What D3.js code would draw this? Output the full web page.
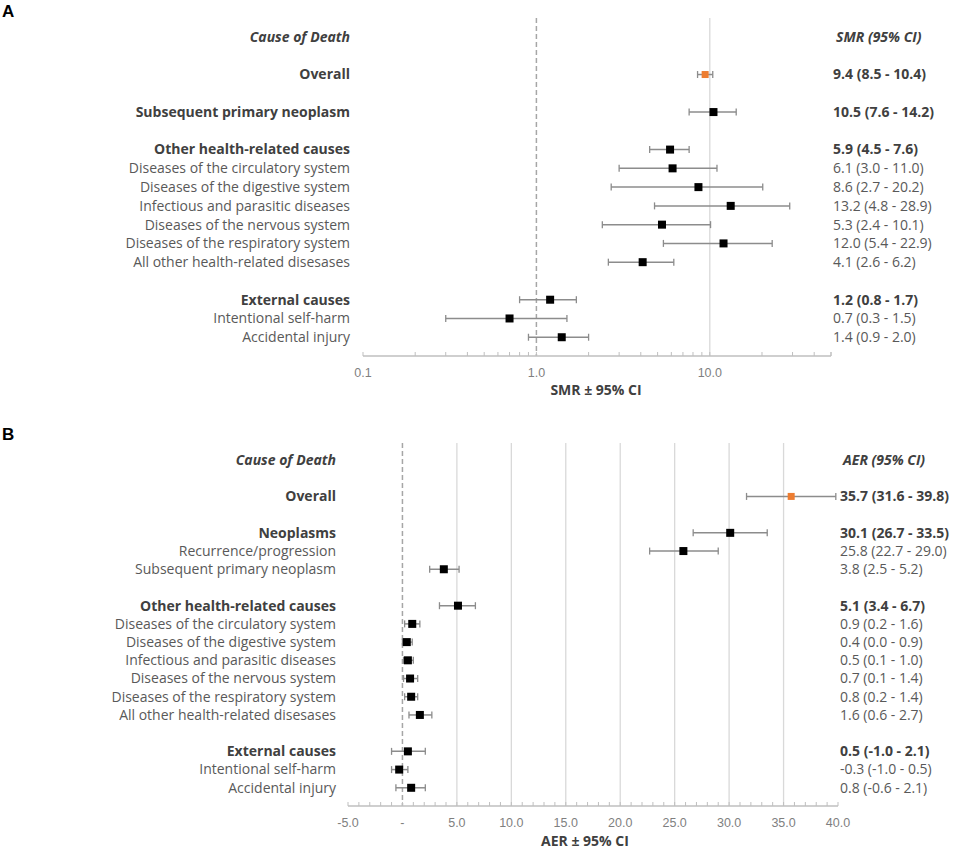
<!DOCTYPE html>
<html>
<head>
<meta charset="utf-8">
<script src="https://cdn.jsdelivr.net/npm/d3@7"></script>
<style>
body { margin: 0; background: #fff; }
text { font-family: "Open Sans", sans-serif; }
</style>
</head>
<body>
<div id="charts"></div>
<script>
// panel A - SMR
var causesA = ["Overall", "Subsequent primary neoplasm", "Other health-related causes",
  "Diseases of the circulatory system", "Diseases of the digestive system",
  "Infectious and parasitic diseases", "Diseases of the nervous system",
  "Diseases of the respiratory system", "All other health-related disesases",
  "External causes", "Intentional self-harm", "Accidental injury"];
var boldA = [1, 1, 1, 0, 0, 0, 0, 0, 0, 1, 0, 0];
var rowsA = [2, 4, 6, 7, 8, 9, 10, 11, 12, 14, 15, 16];
var smr = [9.4, 10.5, 5.9, 6.1, 8.6, 13.2, 5.3, 12.0, 4.1, 1.2, 0.7, 1.4];
var smrLow = [8.5, 7.6, 4.5, 3.0, 2.7, 4.8, 2.4, 5.4, 2.6, 0.8, 0.3, 0.9];
var smrHigh = [10.4, 14.2, 7.6, 11.0, 20.2, 28.9, 10.1, 22.9, 6.2, 1.7, 1.5, 2.0];
var ticksA = [0.1, 1, 10];
var tickLabelsA = ["0.1", "1.0", "10.0"];

// panel B - AER
var causesB = ["Overall", "Neoplasms", "Recurrence/progression", "Subsequent primary neoplasm",
  "Other health-related causes", "Diseases of the circulatory system",
  "Diseases of the digestive system", "Infectious and parasitic diseases",
  "Diseases of the nervous system", "Diseases of the respiratory system",
  "All other health-related disesases", "External causes", "Intentional self-harm",
  "Accidental injury"];
var boldB = [1, 1, 0, 0, 1, 0, 0, 0, 0, 0, 0, 1, 0, 0];
var rowsB = [2, 4, 5, 6, 8, 9, 10, 11, 12, 13, 14, 16, 17, 18];
var aer = [35.7, 30.1, 25.8, 3.8, 5.1, 0.9, 0.4, 0.5, 0.7, 0.8, 1.6, 0.5, -0.3, 0.8];
var aerLow = [31.6, 26.7, 22.7, 2.5, 3.4, 0.2, 0.0, 0.1, 0.1, 0.2, 0.6, -1.0, -1.0, -0.6];
var aerHigh = [39.8, 33.5, 29.0, 5.2, 6.7, 1.6, 0.9, 1.0, 1.4, 1.4, 2.7, 2.1, 0.5, 2.1];
var ticksB = [-5, 0, 5, 10, 15, 20, 25, 30, 35, 40];
var tickLabelsB = ["-5.0", "-", "5.0", "10.0", "15.0", "20.0", "25.0", "30.0", "35.0", "40.0"];

var svg = d3.select("#charts").append("svg")
  .attr("width", 969)
  .attr("height", 852);

svg.append("rect").attr("width", 969).attr("height", 852).attr("fill", "#fff");

function fmt(v) { return v.toFixed(1); }

function drawPanel(p)
{
  var g = svg.append("g");
  var x = p.x, y = p.y;

  // panel letter
  g.append("text").attr("x", 2).attr("y", p.letterY)
    .style("font-family", "Liberation Sans, Arial, sans-serif")
    .style("font-weight", "bold").style("font-size", "17px").attr("fill", "#000")
    .text(p.letter);

  // gridlines
  g.selectAll(".grid").data(p.grid).enter().append("line")
    .attr("x1", d => x(d)).attr("x2", d => x(d))
    .attr("y1", p.top).attr("y2", y(p.axisRow))
    .attr("stroke", "#d9d9d9").attr("stroke-width", 1.3);

  // reference line
  g.append("line")
    .attr("x1", x(p.ref)).attr("x2", x(p.ref))
    .attr("y1", p.top).attr("y2", y(p.axisRow))
    .attr("stroke", "#a6a6a6").attr("stroke-width", 1.5)
    .attr("stroke-dasharray", "5,3");

  // axis
  var ay = y(p.axisRow);
  g.append("line").attr("x1", x.range()[0]).attr("x2", x.range()[1])
    .attr("y1", ay).attr("y2", ay).attr("stroke", "#bfbfbf").attr("stroke-width", 1.5);
  g.selectAll(".minor").data(p.minor).enter().append("line")
    .attr("x1", d => x(d)).attr("x2", d => x(d))
    .attr("y1", ay).attr("y2", ay - 4)
    .attr("stroke", "#bfbfbf").attr("stroke-width", 1);
  g.selectAll(".tick").data(p.ticks).enter().append("text")
    .attr("x", d => x(d)).attr("y", ay + 21)
    .attr("text-anchor", "middle")
    .style("font-family", "Liberation Sans Narrow, Liberation Sans, sans-serif")
    .style("font-size", "12.5px").attr("fill", "#7f7f7f")
    .text((d, i) => p.tickLabels[i]);
  g.append("text").attr("x", p.titleX).attr("y", p.titleY)
    .attr("text-anchor", "middle").style("font-weight", "bold").style("font-size", "14px")
    .attr("fill", "#404040").text(p.title);

  // headers
  g.append("text").attr("x", p.labelX).attr("y", y(0)).attr("dy", "0.35em")
    .attr("text-anchor", "end").style("font-weight", "bold").style("font-style", "italic")
    .style("font-size", "14px").attr("fill", "#404040").text("Cause of Death");
  g.append("text").attr("x", p.valueX + 3).attr("y", y(0)).attr("dy", "0.35em")
    .style("font-weight", "bold").style("font-style", "italic")
    .style("font-size", "14px").attr("fill", "#404040").text(p.valueHeader);

  var data = p.labels.map((d, i) => ({
    label: d, bold: p.bold[i], row: p.rows[i],
    est: p.est[i], lo: p.lo[i], hi: p.hi[i], first: i == 0
  }));

  // labels and values
  g.selectAll(".lab").data(data).enter().append("text")
    .attr("x", p.labelX).attr("y", d => y(d.row)).attr("dy", "0.35em")
    .attr("text-anchor", "end")
    .style("font-weight", d => d.bold ? "bold" : "normal").style("font-size", "14px")
    .attr("fill", d => d.bold ? "#404040" : "#595959")
    .text(d => d.label);
  g.selectAll(".val").data(data).enter().append("text")
    .attr("x", p.valueX).attr("y", d => y(d.row)).attr("dy", "0.35em")
    .style("font-weight", d => d.bold ? "bold" : "normal").style("font-size", "14px")
    .attr("fill", d => d.bold ? "#404040" : "#595959")
    .text(d => fmt(d.est) + " (" + fmt(d.lo) + " - " + fmt(d.hi) + ")");

  // error bars
  var bars = g.selectAll(".bar").data(data).enter().append("g");
  bars.append("line")
    .attr("x1", d => x(d.lo)).attr("x2", d => x(d.hi))
    .attr("y1", d => y(d.row)).attr("y2", d => y(d.row))
    .attr("stroke", "#8c8c8c").attr("stroke-width", 1.5);
  bars.append("line")
    .attr("x1", d => x(d.lo)).attr("x2", d => x(d.lo))
    .attr("y1", d => y(d.row) - 3.5).attr("y2", d => y(d.row) + 3.5)
    .attr("stroke", "#8c8c8c").attr("stroke-width", 1.3);
  bars.append("line")
    .attr("x1", d => x(d.hi)).attr("x2", d => x(d.hi))
    .attr("y1", d => y(d.row) - 3.5).attr("y2", d => y(d.row) + 3.5)
    .attr("stroke", "#8c8c8c").attr("stroke-width", 1.3);
  bars.append("rect")
    .attr("x", d => x(d.est) - (d.first ? 3.5 : 4))
    .attr("y", d => y(d.row) - (d.first ? 3.5 : 4))
    .attr("width", d => d.first ? 7 : 8).attr("height", d => d.first ? 7 : 8)
    .attr("fill", d => d.first ? "#ed7d31" : "#000");
}

// log minor ticks for A
var minorA = [];
[0.1, 1, 10].forEach(b => { for (var k = 1; k <= 9; k++) if (b * k <= 50) minorA.push(b * k); });
minorA.push(50);

drawPanel({
  letter: "A", letterY: 17,
  x: d3.scaleLog().domain([0.1, 50]).range([363, 831]),
  y: d3.scaleLinear().domain([0, 17]).range([37, 356]),
  top: 18, axisRow: 17, ref: 1, grid: [10],
  minor: minorA, ticks: ticksA, tickLabels: tickLabelsA,
  title: "SMR \u00b1 95% CI", titleX: 596, titleY: 395,
  labelX: 350, valueX: 833, valueHeader: "SMR (95% CI)",
  labels: causesA, bold: boldA, rows: rowsA, est: smr, lo: smrLow, hi: smrHigh
});

drawPanel({
  letter: "B", letterY: 440,
  x: d3.scaleLinear().domain([-5, 40]).range([348, 838]),
  y: d3.scaleLinear().domain([0, 19]).range([460, 806]),
  top: 443, axisRow: 19, ref: 0, grid: [5, 10, 15, 20, 25, 30, 35],
  minor: d3.range(-5, 41, 1), ticks: ticksB, tickLabels: tickLabelsB,
  title: "AER \u00b1 95% CI", titleX: 585, titleY: 846,
  labelX: 336, valueX: 840, valueHeader: "AER (95% CI)",
  labels: causesB, bold: boldB, rows: rowsB, est: aer, lo: aerLow, hi: aerHigh
});
</script>
</body>
</html>
